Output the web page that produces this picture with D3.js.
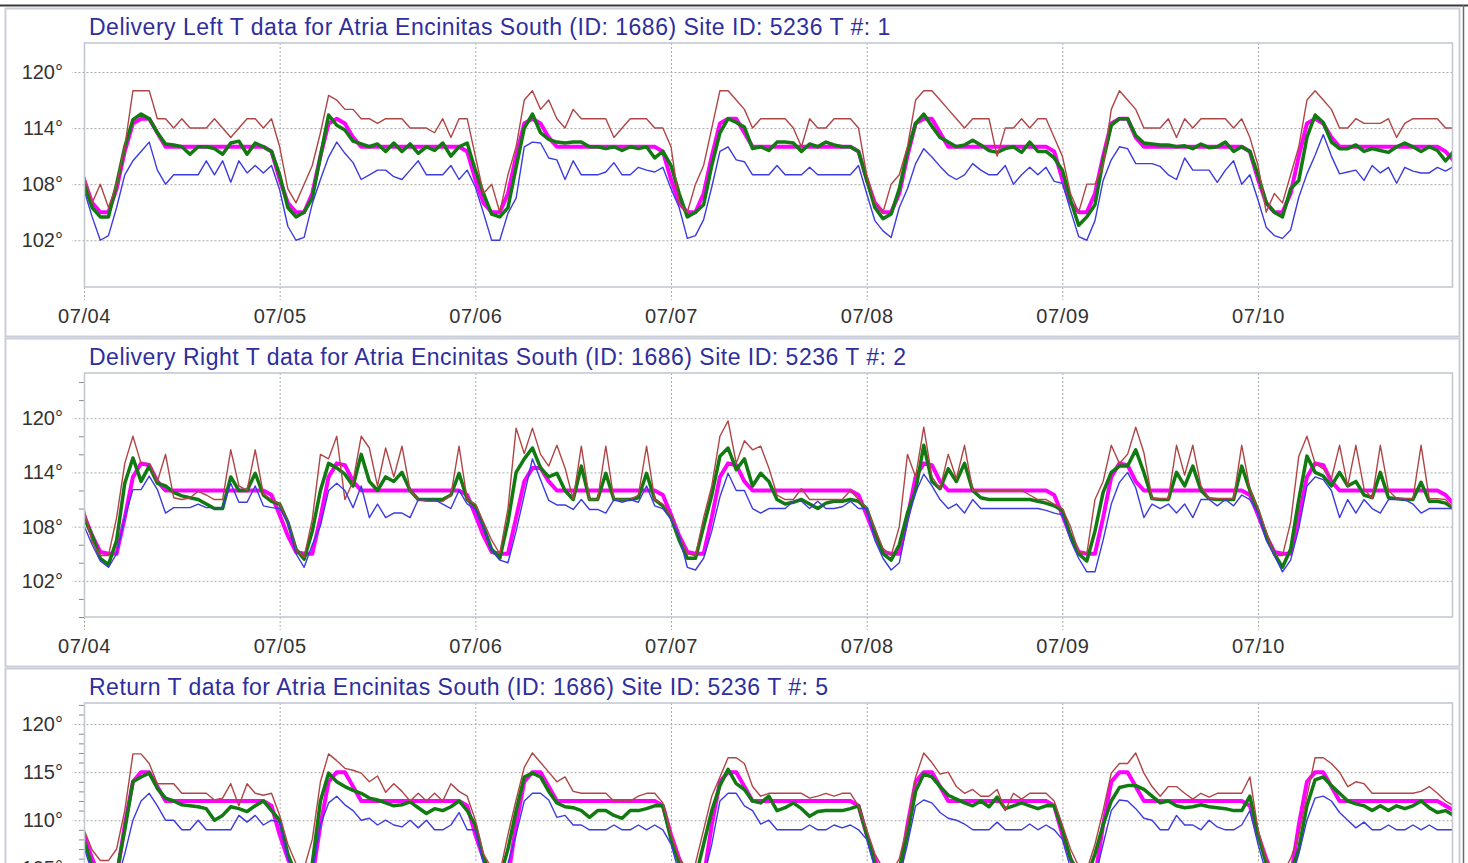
<!DOCTYPE html>
<html>
<head>
<meta charset="utf-8">
<script src="https://cdn.jsdelivr.net/npm/d3@7"></script>
<style>
  html, body { margin: 0; padding: 0; background: #fff; overflow: hidden; }
  svg { display: block; }
  text { font-family: "Liberation Sans", Arial, sans-serif; }
</style>
</head>
<body>
<svg width="1468" height="863"></svg>
<script>
// hourly readings, 07/04 00:00 .. 07/11 00:00 (169 values each)
var dayLabels = ["07/04", "07/05", "07/06", "07/07", "07/08", "07/09", "07/10"];

var titles = [
  "Delivery Left T data for Atria Encinitas South (ID: 1686) Site ID: 5236 T #: 1",
  "Delivery Right T data for Atria Encinitas South (ID: 1686) Site ID: 5236 T #: 2",
  "Return T data for Atria Encinitas South (ID: 1686) Site ID: 5236 T #: 5"
];

var leftMax = [
  109, 106, 108, 105.5, 108, 112, 118, 118, 118, 115, 115, 114, 115, 114, 114, 114, 115, 114, 113, 114, 115, 115, 114, 115,
  112, 107.5, 106, 108, 110, 113.5, 117.5, 117, 116, 116, 115, 115, 114.5, 115, 115, 115, 114, 114, 114, 113.5, 115, 113, 115, 115,
  111, 107, 108, 105, 109, 112, 117, 118, 116, 117, 115, 114, 116, 115, 115, 115, 115, 113, 114, 115, 115, 115, 114, 114,
  112, 106, 105, 108, 110, 114, 118, 118, 117, 116, 114, 115, 115, 115, 115, 114, 112, 115, 114, 114, 115, 115, 115, 114,
  109, 106, 105, 108, 109, 112, 117, 118, 118, 117, 116, 115, 114, 115, 115, 115, 111, 114, 114, 115, 114, 115, 115, 113,
  111, 107, 105, 108, 108, 110, 116, 118, 117, 116, 114, 114, 114, 115, 113, 115, 114, 115, 115, 115, 115, 114, 115, 113,
  110, 105, 107, 106, 109, 112, 117, 118, 117, 116, 114, 114, 115, 114.5, 114.5, 114.5, 115, 113, 114.5, 115, 115, 115, 115, 114, 114
];
var leftAvg = [
  108, 105.5, 104.5, 104.5, 108, 112, 114.9, 115.5, 115, 113.5, 112.3, 112.2, 112, 111.2, 112, 112, 111.8, 111.2, 112.4, 112.6, 111.2, 112.4, 112, 111.5,
  109, 105.5, 104.5, 105, 106.5, 111, 115.4, 114.3, 113.8, 112.6, 112.3, 112, 112.3, 111.5, 112.4, 111.5, 112.3, 111.3, 112, 111.6, 112.4, 111, 112, 112.4,
  109.5, 107, 104.8, 104.5, 105.5, 109.8, 114, 115.5, 113.5, 112.8, 112.5, 112.4, 112.5, 112.5, 112, 112, 111.8, 112, 111.6, 112, 111.8, 112, 110.8, 111.5,
  110, 107, 104.5, 105, 105.8, 110, 113.5, 115, 114.6, 114.1, 111.8, 112, 111.6, 112.5, 112.5, 112.4, 111.5, 112.3, 112, 112.5, 112.2, 112, 112, 111.5,
  108.5, 105.5, 104.3, 104.8, 107.5, 111.5, 114.5, 115.5, 114.2, 113, 112.5, 112, 112.2, 112.7, 112.2, 111.6, 111.4, 111.8, 112, 111.4, 112.5, 111.5, 111.5, 110.8,
  109.5, 106.3, 103.6, 104.5, 105.8, 110.5, 114.3, 115, 115, 113.2, 112.4, 112.3, 112.2, 112.2, 112, 112.1, 111.8, 112.3, 111.9, 112, 112.5, 111.5, 112, 111.5,
  109, 106, 105, 104.5, 107.5, 108.4, 113, 115.4, 114.6, 112.5, 111.8, 111.8, 112.2, 111.5, 111.8, 111.6, 111.4, 112, 112.4, 112, 111.5, 112, 111.6, 110.5, 111.5
];
var leftMin = [
  107.4, 104.5, 102, 102.5, 105.5, 109, 110.5, 111.5, 112.5, 109.5, 108, 109, 109, 109, 109, 110.5, 109, 110.5, 108.2, 110.5, 109.2, 110, 109.2, 110,
  107.4, 103.5, 102, 102.3, 105.9, 108.5, 110.9, 112.5, 111.3, 110.3, 108.5, 109, 109.5, 109.5, 108.8, 108.5, 109.5, 110.5, 109, 109, 109, 110, 108.5, 109.5,
  107.7, 104.9, 102, 102, 104.9, 106.5, 112, 112.5, 112.4, 110.8, 110.6, 108.5, 110.5, 109, 109, 109, 109.3, 110.3, 109, 109, 109.8, 109.5, 109.3, 109.8,
  107.5, 105.5, 102.2, 102.5, 104.2, 107.7, 111.5, 112, 110.6, 110.4, 109, 109, 109, 110, 109, 109, 109, 109.8, 109, 109, 109, 109, 109, 110,
  107, 104.1, 103, 102.3, 105.5, 107.5, 110.2, 111.8, 110.9, 109.9, 109, 108.5, 109, 110.2, 109.5, 109, 109, 110, 108, 109, 109.8, 109, 109.8, 108.3,
  108.1, 105.2, 102.4, 102, 104.1, 108.4, 110.6, 112, 111.8, 110.2, 110.2, 110.2, 109.9, 109, 108.5, 110.8, 109.5, 109.5, 109.5, 108.2, 109.5, 110.5, 108, 109,
  106.3, 103.4, 102.5, 102.2, 103.1, 106.6, 109.1, 111.1, 113.3, 111, 109.1, 109.3, 109.5, 108.4, 110, 109.2, 109.8, 108.1, 109.8, 109.4, 109.2, 109.2, 109.8, 109.4, 109.9
];
var leftSet = [
  108.5, 106, 105, 105, 107.5, 111.5, 114.5, 115, 115, 113.5, 112, 112, 112, 112, 112, 112, 112, 112, 112, 112, 112, 112, 112, 111.5,
  108.5, 106, 105, 105, 107, 111, 114.5, 115, 114.5, 113, 112, 112, 112, 112, 112, 112, 112, 112, 112, 112, 112, 112, 112, 111.5,
  108.5, 106, 105, 105, 107, 111, 114.5, 115, 114.5, 113, 112, 112, 112, 112, 112, 112, 112, 112, 112, 112, 112, 112, 112, 111.5,
  108.5, 106, 105, 105, 107, 111, 114.5, 115, 115, 113.5, 112, 112, 112, 112, 112, 112, 112, 112, 112, 112, 112, 112, 112, 111.5,
  108.5, 106, 105, 105, 107, 111, 114.5, 115, 115, 113.5, 112, 112, 112, 112, 112, 112, 112, 112, 112, 112, 112, 112, 112, 111.5,
  108.5, 106, 105, 105, 107, 111, 114.5, 115, 115, 113, 112, 112, 112, 112, 112, 112, 112, 112, 112, 112, 112, 112, 112, 111.5,
  108.5, 106, 105, 105, 107, 111, 114.5, 115, 114.5, 113, 112, 112, 112, 112, 112, 112, 112, 112, 112, 112, 112, 112, 112, 111.5, 110.5
];

var rightMax = [
  110, 106.3, 104.8, 104.8, 109, 115, 118, 115, 115, 113, 116, 111.2, 111, 111.2, 111.9, 111.5, 111, 111, 116.5, 112.5, 112, 116.5, 111.6, 111,
  110.5, 108.5, 105.5, 104.6, 108.8, 116, 115.5, 118, 111, 113, 118, 116.7, 112.5, 116.7, 113.5, 116.9, 112, 111, 110.8, 110.8, 110.8, 111.5, 116.9, 111,
  110.5, 108.5, 106.5, 105, 110, 118.9, 116.1, 118.9, 116, 114.7, 117, 114.5, 111, 116.9, 111, 111, 116.9, 111, 111, 111, 111.5, 116.9, 111, 110.5,
  109.2, 107, 105, 104.8, 109, 112.5, 118, 119.7, 115, 117.5, 116.5, 116.9, 114.5, 111.5, 111, 111, 112.2, 111, 111, 111, 111, 111, 112, 111,
  110, 107.8, 105.6, 104.8, 108, 116, 113.5, 119, 113.5, 112.2, 116, 113.3, 117, 112, 112, 112, 112, 112, 112, 112, 111.5, 111, 111, 110.5,
  110, 108, 105.2, 105, 111, 113, 117, 115, 116, 119, 116.2, 111.1, 111.1, 111.1, 117, 113.7, 117, 112.5, 111.1, 111.1, 111.1, 111.1, 117, 112.2,
  110, 107.5, 104.8, 104.8, 108.5, 115.8, 118, 115, 114.4, 113.3, 117, 112.5, 117, 112.2, 111.1, 117, 112, 111.1, 111.1, 111.1, 117, 111.1, 111.1, 111, 110
];
var rightAvg = [
  109, 107, 104.5, 103.8, 106.5, 112.8, 115.6, 113, 114.7, 112.8, 112.5, 111.8, 111.4, 111.2, 111, 110.5, 110, 110, 113.5, 112, 112, 113.9, 111.5, 110.8,
  110.5, 108.5, 105.5, 104.4, 107.5, 112, 115, 114.5, 113.8, 112.5, 116, 113, 112, 113.5, 113, 114, 112, 111, 111, 111, 111, 111.5, 113.9, 111,
  110.3, 108, 105.5, 104.5, 108.5, 114, 115.5, 116.7, 114.5, 113.5, 113.9, 112, 111, 114.7, 111, 111, 113.9, 111, 111, 111, 111.2, 113.9, 111, 110.3,
  109, 106.5, 104.5, 104.5, 108, 111.5, 115.8, 116.7, 114.3, 115.5, 112.5, 113.9, 113, 111, 110.5, 110.7, 111, 110.5, 110, 110.6, 110.8, 110.8, 111, 110.8,
  110, 107.5, 105, 104.3, 106, 109.5, 112, 117, 113, 112.2, 114.4, 113, 115, 112, 111.2, 111, 111, 111, 111, 111, 111, 110.8, 110.6, 110.3,
  109.8, 107, 105, 104.2, 107.5, 111.8, 114, 114.7, 114.7, 116.5, 114, 111.1, 111, 111, 114, 112.5, 114.7, 112, 111.1, 111, 111, 111, 114.7, 112,
  109.8, 107, 105, 103.5, 105.5, 111, 115.8, 114, 113.6, 112.5, 114, 112.5, 113, 111.5, 111.2, 114, 111.2, 111.1, 111, 111, 112.9, 110.8, 110.8, 110.6, 110
];
var rightMin = [
  108.1, 106, 104.2, 103.5, 105, 109, 112.1, 112.1, 113.6, 112.1, 109.5, 110.1, 110.1, 110.1, 110.5, 110.1, 110.1, 110.1, 112.8, 110.7, 110.7, 112.5, 110.3, 110.1,
  110, 108.5, 105, 103.5, 106, 108.1, 112, 112.8, 112, 110.1, 112.5, 109, 110.5, 109, 109.5, 109.5, 109, 111, 111, 111, 110.5, 110, 112, 110.5,
  109.9, 107.9, 105.5, 104.3, 104, 107.5, 111.5, 115.5, 113.2, 110.9, 110.4, 110.4, 109.9, 111, 109.9, 109.9, 109.5, 111, 110.7, 111, 110.7, 112.5, 110.3, 110,
  108.8, 107, 103.5, 103.2, 104.5, 107.5, 111.3, 113.9, 112, 112, 110, 109.5, 110, 110, 110, 110.8, 110.8, 110, 110.8, 110, 110, 110.2, 110.8, 110,
  110, 106.5, 104.5, 103.2, 104, 108.5, 111.8, 113.8, 112.5, 111, 110, 110.5, 109.5, 111, 110, 110, 110, 110, 110, 110, 110, 110, 109.8, 109.5,
  109.3, 106.5, 104.5, 103, 103, 106.5, 110.5, 112.9, 114, 112.3, 109, 110.5, 110, 110.5, 109.5, 110.5, 109, 111, 111, 110.3, 111, 110.3, 111.5, 111,
  109.5, 106.5, 104.8, 103, 104.3, 107.8, 112.5, 113.5, 113.2, 112, 109, 111, 109.5, 111, 110, 109.5, 111, 111, 111, 110.5, 109.5, 110, 110, 110, 110
];
var rightSet = [
  109.3, 107, 105.2, 105, 105, 109, 113.5, 115, 114.8, 113, 112, 112, 112, 112, 112, 112, 112, 112, 112, 112, 112, 112, 112, 111.5,
  109.3, 107, 105.2, 105, 105, 109, 113.5, 115, 114.8, 113, 112, 112, 112, 112, 112, 112, 112, 112, 112, 112, 112, 112, 112, 111.5,
  109.3, 107, 105.2, 105, 105, 109, 113, 114.5, 114.5, 113, 112, 112, 112, 112, 112, 112, 112, 112, 112, 112, 112, 112, 112, 111.5,
  109.3, 107, 105.2, 105, 105, 109, 113.5, 115, 114.8, 113, 112, 112, 112, 112, 112, 112, 112, 112, 112, 112, 112, 112, 112, 111.5,
  109.3, 107, 105.2, 105, 105, 109, 113.5, 115, 114.8, 113, 112, 112, 112, 112, 112, 112, 112, 112, 112, 112, 112, 112, 112, 111.5,
  109.3, 107, 105.2, 105, 105, 109, 113.5, 115, 114.8, 113, 112, 112, 112, 112, 112, 112, 112, 112, 112, 112, 112, 112, 112, 111.5,
  109.3, 107, 105.2, 105, 105, 109, 113.5, 115, 114.8, 113, 112, 112, 112, 112, 112, 112, 112, 112, 112, 112, 112, 112, 112, 111.5, 110.5
];

var returnMax = [
  109, 106.9, 105.8, 105.8, 107, 111, 116.9, 116.9, 115.9, 113.8, 113.8, 113.8, 112.8, 112.8, 112.8, 112.8, 112.1, 112.3, 113.8, 111.5, 113.8, 112.8, 112.6, 112.8,
  110.5, 107.5, 105.5, 105, 108, 114, 116.9, 116.2, 115.4, 115.2, 114.9, 114, 114.6, 112.9, 113.8, 113, 112, 112.8, 112, 112.8, 112, 113.8, 113, 112.5,
  110, 106.5, 105, 104.5, 108.5, 112.1, 115.5, 117, 116, 115, 114, 114.5, 113, 112.8, 112.8, 112.8, 112.8, 112, 112, 112, 112.5, 112.8, 112.8, 111.8,
  108.5, 106, 105, 105.5, 109, 112.5, 114.5, 116.5, 116.5, 115.9, 113.5, 112.5, 112.8, 112.8, 112.8, 112.8, 112.8, 112.3, 112.5, 112.8, 112.5, 112.8, 112.8, 111.5,
  109, 106.5, 105, 104.5, 106, 109.5, 114.5, 117, 116, 114.8, 115, 113.5, 112.8, 113.2, 112.5, 112.5, 113.2, 111, 112.8, 112.2, 112.8, 112.8, 112.8, 112,
  109.5, 107, 105.2, 104.8, 107.5, 111, 114.9, 115.9, 115.9, 117, 114.9, 113.5, 112.5, 113.5, 113.5, 112.8, 112.2, 112.8, 112.4, 112.8, 112.8, 112.8, 112.8, 114.5,
  109, 106, 104.5, 104.5, 106, 108.5, 112.5, 116.5, 116.5, 115.9, 115, 113.5, 114, 113.8, 112.8, 112.8, 112.8, 112.8, 112.8, 112.8, 113, 113.5, 112.8, 112, 111.5
];
var returnAvg = [
  107.9, 105.2, 104, 103.5, 104.5, 109, 114, 114.5, 114.9, 113.3, 112.3, 112, 111.6, 111.5, 111.4, 111.2, 110, 110.5, 111.4, 111.2, 110.9, 111.5, 112, 111,
  110, 106.5, 104.3, 103.8, 105.5, 112, 114.9, 114, 113.5, 113.1, 112.8, 112.3, 112.1, 111.8, 111.5, 111.6, 111.9, 111.3, 110.7, 111.2, 111, 111.4, 112, 111,
  109.5, 106, 104.5, 104, 107, 111, 114.5, 114.9, 114.5, 113, 111.8, 111.4, 111.3, 111, 110.3, 111, 111, 110.5, 110.2, 111, 111, 111.2, 111.5, 111.5,
  108, 105.5, 104.3, 104, 107.5, 111, 113.6, 115.3, 113.8, 113.2, 112, 111.8, 112.5, 111, 111.3, 111.8, 111.2, 110.4, 110.9, 111, 111, 111, 111.2, 111.5,
  108.5, 105.5, 104, 103.5, 105, 108.5, 113, 114.8, 114.5, 113.5, 112.6, 112.2, 111.8, 111.5, 112, 111.4, 112.4, 111.2, 111.5, 111.8, 111.5, 111.2, 111.5, 111.5,
  109, 106, 104.5, 104, 106.5, 109.5, 112, 113.4, 113.6, 113.6, 113.2, 112.5, 111.8, 112, 111.5, 111.3, 111.4, 111.6, 111.4, 111.3, 111.2, 111, 111, 112.5,
  108.5, 105.5, 104, 103.5, 104.5, 107, 111.5, 114.2, 114.5, 113.6, 112.8, 112, 111.7, 111.5, 111, 111.5, 111, 111.5, 111.2, 111.5, 112, 111.3, 110.8, 111, 110.5
];
var returnMin = [
  107.2, 104.5, 103, 102.5, 103.5, 106.5, 110, 112, 112.8, 111.5, 110, 110, 109, 109, 110, 109, 109, 109, 109, 110.5, 109.8, 110.5, 109.5, 110,
  109.8, 106, 104, 103, 104.5, 109.5, 111.8, 112.5, 111.6, 111, 110, 110.2, 109.5, 110, 109.5, 109.3, 110, 109.2, 110, 109, 109, 109.5, 110.8, 109,
  109, 105.5, 103.5, 103, 105.5, 108.5, 112, 112.8, 112.8, 112.1, 110.3, 110.5, 109.5, 109.5, 109, 109, 109, 109.5, 109, 109, 109.5, 109, 109.5, 109,
  107.5, 104.5, 103, 102.5, 104, 107.5, 112, 112.8, 112.8, 111.5, 111, 109.6, 110, 109, 109, 109, 109, 109.5, 109, 109, 109.5, 109.2, 109.5, 109,
  108, 105, 103, 102.5, 104, 107.5, 111.5, 112.1, 111.8, 110.8, 110.2, 110, 109.6, 109, 109, 109, 109.8, 109, 109, 109, 109.6, 109, 109.5, 109,
  108, 105, 103, 102.5, 104, 107.5, 111, 112.1, 112, 111.2, 110.2, 110, 109, 109, 110.5, 109.5, 109.5, 109, 110, 109.3, 109, 109, 109.5, 111,
  107.5, 104.5, 103, 102.5, 103.5, 106.5, 110, 112.3, 112.5, 112, 110.8, 110, 109.2, 109.8, 109, 109, 109.5, 109, 109, 109.5, 109, 109.5, 109, 109, 109
];
var returnSet = [
  108.5, 106, 104, 103.5, 104, 109.5, 114, 115, 115, 113.5, 112, 112, 112, 112, 112, 112, 112, 112, 112, 112, 112, 112, 112, 111.5,
  108.5, 106, 104, 103.5, 104, 109.5, 114, 115, 115, 113.5, 112, 112, 112, 112, 112, 112, 112, 112, 112, 112, 112, 112, 112, 111.5,
  108.5, 106, 104, 103.5, 104, 109.5, 114, 115, 115, 113.5, 112, 112, 112, 112, 112, 112, 112, 112, 112, 112, 112, 112, 112, 111.5,
  108.5, 106, 104, 103.5, 104, 109.5, 114, 115, 115, 113.5, 112, 112, 112, 112, 112, 112, 112, 112, 112, 112, 112, 112, 112, 111.5,
  108.5, 106, 104, 103.5, 104, 109.5, 114, 115, 115, 113.5, 112, 112, 112, 112, 112, 112, 112, 112, 112, 112, 112, 112, 112, 111.5,
  108.5, 106, 104, 103.5, 104, 109.5, 114, 115, 115, 113.5, 112, 112, 112, 112, 112, 112, 112, 112, 112, 112, 112, 112, 112, 111.5,
  108.5, 106, 104, 103.5, 104, 109.5, 114, 115, 115, 113.5, 112, 112, 112, 112, 112, 112, 112, 112, 112, 112, 112, 112, 112, 111.5, 111
];

var svg = d3.select("svg"),
    plotLeft = 84.5, plotRight = 1452.5,
    plotTop = 43, plotBottom = 287,
    panelStep = 330;

var start = new Date(2016, 6, 4);
var hours = leftMax.map(function(d, i) { return d3.timeHour.offset(start, i); });
var dayTicks = dayLabels.map(function(d, i) { return d3.timeDay.offset(start, i); });

var x = d3.scaleTime()
    .domain([start, d3.timeDay.offset(start, 7)])
    .range([84, 1453.7]);

var panels = [
  {title: titles[0], domain: [97, 123.1], majors: [102, 108, 114, 120], minorStep: 2,
   set: leftSet, avg: leftAvg, max: leftMax, min: leftMin},
  {title: titles[1], domain: [98, 125], majors: [102, 108, 114, 120], minorStep: 2,
   set: rightSet, avg: rightAvg, max: rightMax, min: rightMin},
  {title: titles[2], domain: [96.8, 122.2], majors: [100, 105, 110, 115, 120], minorStep: 1,
   set: returnSet, avg: returnAvg, max: returnMax, min: returnMin}
];

var styles = [
  {key: "set", color: "#ff00ff", width: 4},
  {key: "avg", color: "#117a11", width: 3.5},
  {key: "max", color: "#b04545", width: 1.4},
  {key: "min", color: "#3b3be0", width: 1.4}
];

// frame
svg.append("line")
    .attr("x1", 0).attr("x2", 1468).attr("y1", 5.5).attr("y2", 5.5)
    .attr("stroke", "#3a3a3a").attr("stroke-width", 2);
svg.append("line")
    .attr("x1", 1463.5).attr("x2", 1463.5).attr("y1", 5).attr("y2", 863)
    .attr("stroke", "#6a6a6a").attr("stroke-width", 1.5);

panels.forEach(function(p, k) {
  var g = svg.append("g").attr("transform", "translate(0," + (k * panelStep) + ")");

  g.append("rect")
      .attr("x", 5.5).attr("y", 8.5).attr("width", 1454).attr("height", 328)
      .attr("fill", "#fff").attr("stroke", "#c9ced8").attr("stroke-width", 2);

  g.append("text")
      .attr("x", 89).attr("y", 34.5)
      .attr("fill", "#2e2e9e")
      .style("font-size", "23px")
      .style("letter-spacing", "0.5px")
      .text(p.title);

  var y = d3.scaleLinear().domain(p.domain).range([plotBottom, plotTop]);

  // minor ticks
  var minors = d3.range(Math.ceil(p.domain[0]), p.domain[1], p.minorStep)
      .filter(function(v) { return p.majors.indexOf(v) < 0 && v % p.minorStep === 0; });
  g.append("g")
      .attr("transform", "translate(84,0)")
      .call(d3.axisLeft(y).tickValues(minors).tickSize(5).tickFormat(""))
      .call(function(a) {
        a.select(".domain").remove();
        a.selectAll("line").attr("stroke", "#8a8a8a");
      });

  // major ticks + horizontal grid
  g.append("g")
      .attr("transform", "translate(84,0)")
      .call(d3.axisLeft(y).tickValues(p.majors).tickSize(12).tickPadding(9)
            .tickFormat(function(d) { return d + "°"; }))
      .call(function(a) {
        a.select(".domain").remove();
        a.selectAll("line")
            .attr("x1", plotRight - 84)
            .attr("stroke", "#a9a9a9")
            .attr("stroke-dasharray", "2,2");
        a.selectAll("text")
            .attr("fill", "#333")
            .style("font-size", "20px");
      });

  // day ticks + vertical grid
  g.append("g")
      .attr("transform", "translate(0," + plotBottom + ")")
      .call(d3.axisBottom(x).tickValues(dayTicks).tickSize(13).tickPadding(9)
            .tickFormat(function(d, i) { return dayLabels[i]; }))
      .call(function(a) {
        a.select(".domain").remove();
        a.selectAll("line")
            .attr("y1", plotTop - plotBottom)
            .attr("stroke", "#a9a9a9")
            .attr("stroke-dasharray", "2,2");
        a.selectAll("text")
            .attr("fill", "#333")
            .style("font-size", "20px")
            .style("letter-spacing", "0.6px");
      });

  var clipId = "clip" + k;
  g.append("clipPath").attr("id", clipId)
    .append("rect")
      .attr("x", plotLeft).attr("y", plotTop)
      .attr("width", plotRight - plotLeft).attr("height", plotBottom - plotTop);

  var lines = g.append("g").attr("clip-path", "url(#" + clipId + ")");
  styles.forEach(function(s) {
    var line = d3.line()
        .x(function(d, i) { return x(hours[i]); })
        .y(function(d) { return y(d); });
    lines.append("path")
        .datum(p[s.key])
        .attr("fill", "none")
        .attr("stroke", s.color)
        .attr("stroke-width", s.width)
        .attr("stroke-linejoin", "round")
        .attr("d", line);
  });

  g.append("rect")
      .attr("x", plotLeft).attr("y", plotTop)
      .attr("width", plotRight - plotLeft).attr("height", plotBottom - plotTop)
      .attr("fill", "none").attr("stroke", "#c3c8d1").attr("stroke-width", 1.6);
});
</script>
</body>
</html>
